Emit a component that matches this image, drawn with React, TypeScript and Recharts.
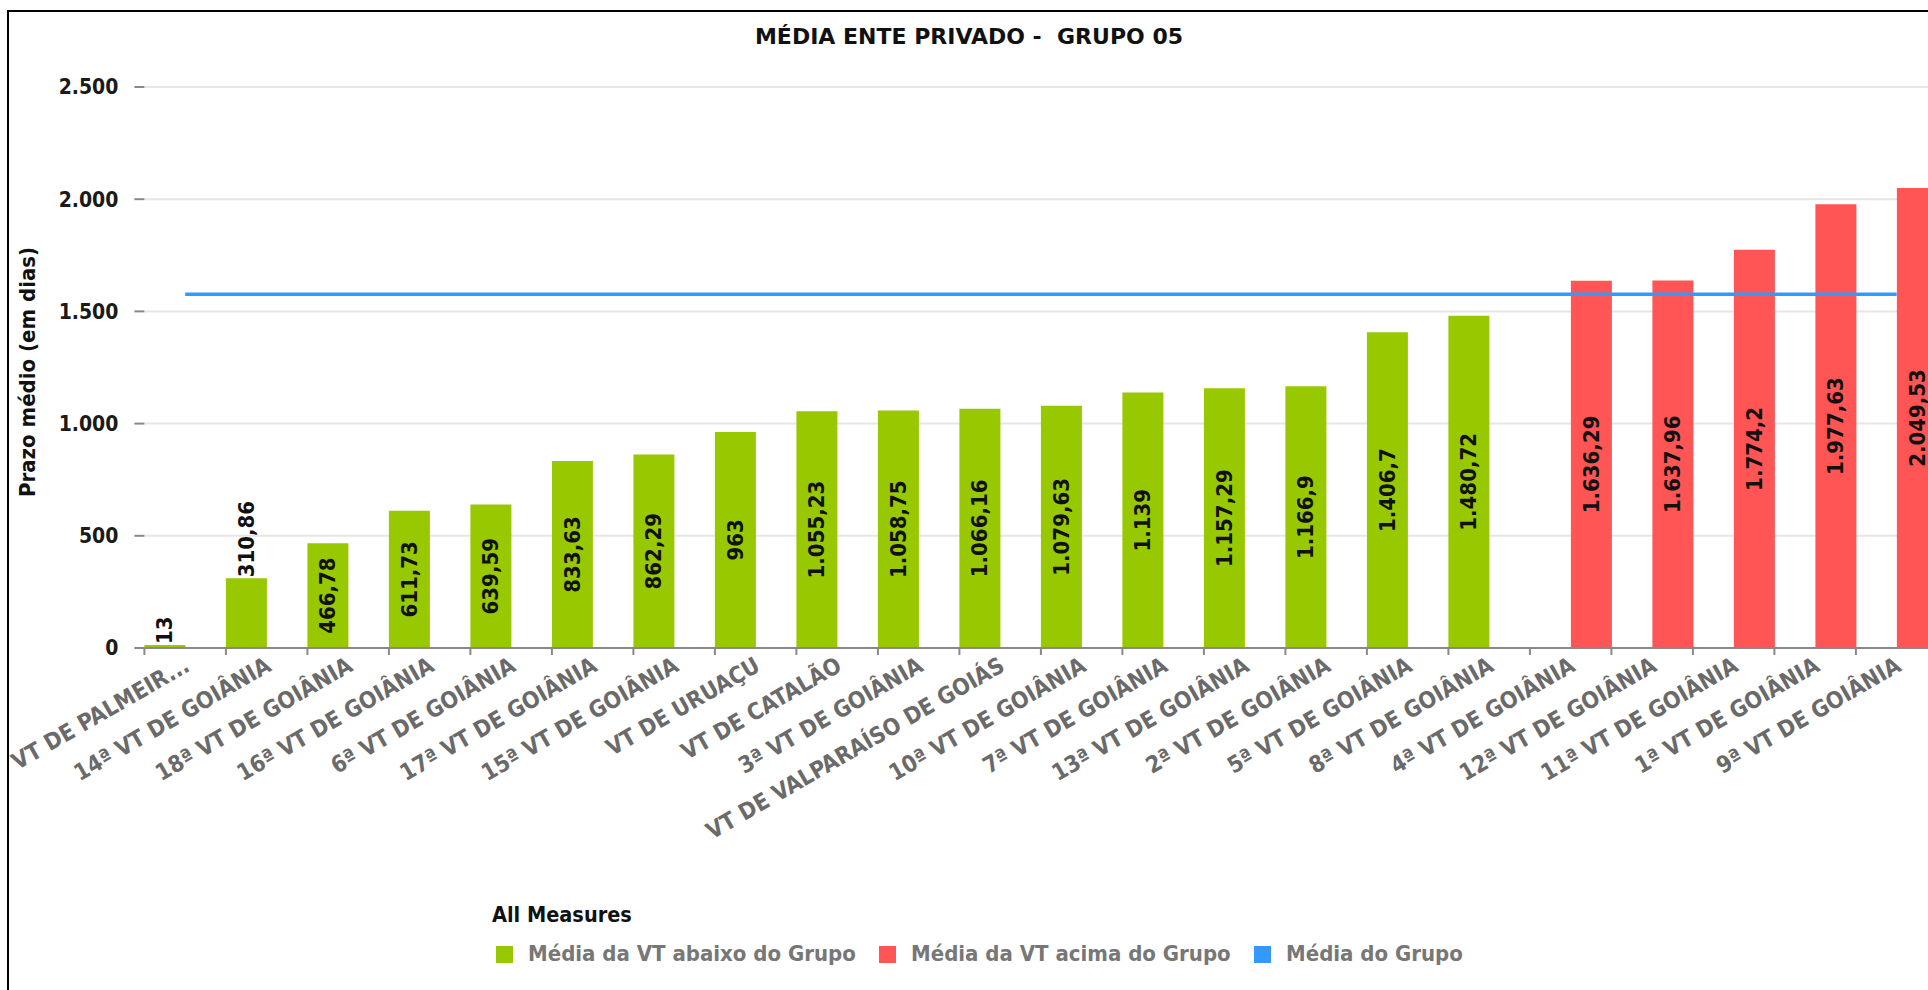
import React from "react";
import {
  Bar,
  CartesianGrid,
  ComposedChart,
  LabelList,
  Line,
  XAxis,
  YAxis,
} from "recharts";

const categories = [
  "VT DE PALMEIR...",
  "14ª VT DE GOIÂNIA",
  "18ª VT DE GOIÂNIA",
  "16ª VT DE GOIÂNIA",
  "6ª VT DE GOIÂNIA",
  "17ª VT DE GOIÂNIA",
  "15ª VT DE GOIÂNIA",
  "VT DE URUAÇU",
  "VT DE CATALÃO",
  "3ª VT DE GOIÂNIA",
  "VT DE VALPARAÍSO DE GOIÁS",
  "10ª VT DE GOIÂNIA",
  "7ª VT DE GOIÂNIA",
  "13ª VT DE GOIÂNIA",
  "2ª VT DE GOIÂNIA",
  "5ª VT DE GOIÂNIA",
  "8ª VT DE GOIÂNIA",
  "4ª VT DE GOIÂNIA",
  "12ª VT DE GOIÂNIA",
  "11ª VT DE GOIÂNIA",
  "1ª VT DE GOIÂNIA",
  "9ª VT DE GOIÂNIA",
];

const prazoMedio = [
  13, 310.86, 466.78, 611.73, 639.59, 833.63, 862.29, 963, 1055.23, 1058.75,
  1066.16, 1079.63, 1139, 1157.29, 1166.9, 1406.7, 1480.72, 1636.29, 1637.96,
  1774.2, 1977.63, 2049.53,
];

const mediaGrupo = 1576;

const yTicks = [0, 500, 1000, 1500, 2000, 2500];

const GREEN = "#97c800";
const RED = "#ff5555";
const BLUE = "#3399ff";
const FONT = "'DejaVu Sans Condensed', 'DejaVu Sans', sans-serif";

const CHART_W = 1960;
const CHART_H = 990;
const SLOT = 81.5;

function fmt(v: number): string {
  const [i, d] = v.toFixed(2).split(".");
  const intPart = i.replace(/\B(?=(\d{3})+(?!\d))/g, ".");
  const dec = d.replace(/0+$/, "");
  return dec ? `${intPart},${dec}` : intPart;
}

const chartData = categories.map((name, idx) => {
  const v = prazoMedio[idx];
  return {
    name,
    abaixo: v <= mediaGrupo ? v : null,
    acima: v > mediaGrupo ? v : null,
    media: mediaGrupo,
  };
});

function XTick({ x = 0, y = 0, payload }: any) {
  const half = payload?.offset || SLOT / 2;
  return (
    <g>
      <line x1={x - half} x2={x - half} y1={y} y2={y + 7} stroke="#888" strokeWidth={2} />
      <text
        transform={`translate(${x + 6}, ${y + 22}) rotate(-30)`}
        textAnchor="end"
        fill="#6a6a6a"
        fontSize={23}
        fontWeight="bold"
        fontFamily={FONT}
      >
        {payload?.value}
      </text>
    </g>
  );
}

function BarValue(props: any) {
  const { x, y, width, height, value } = props;
  if (value == null || height == null) return null;
  const cx = Number(x) + Number(width) / 2;
  const top = Number(y);
  const h = Number(height);
  const label = fmt(Number(value));
  const textLen = label.length * 12.5;
  const outside = textLen + 6 > h;
  return (
    <text
      transform={
        outside
          ? `translate(${cx}, ${top - 1}) rotate(-90)`
          : `translate(${cx}, ${top + h / 2}) rotate(-90)`
      }
      textAnchor={outside ? "start" : "middle"}
      dominantBaseline="central"
      fill="#111"
      fontSize={22}
      fontWeight="bold"
      fontFamily={FONT}
    >
      {label}
    </text>
  );
}

const legendItems = [
  { label: "Média da VT abaixo do Grupo", color: GREEN, x: 496 },
  { label: "Média da VT acima do Grupo", color: RED, x: 879 },
  { label: "Média do Grupo", color: BLUE, x: 1254 },
];

export default function App() {
  return (
    <div
      style={{
        position: "relative",
        width: 1928,
        height: 990,
        overflow: "hidden",
        background: "#fff",
      }}
    >
      <style>{"html,body{margin:0;padding:0;overflow:hidden;background:#fff}"}</style>
      <div
        style={{
          position: "absolute",
          left: 7,
          top: 10,
          width: 2000,
          height: 1040,
          border: "2px solid #000",
        }}
      />
      <div style={{ position: "absolute", left: 0, top: 0 }}>
        <ComposedChart
          width={CHART_W}
          height={CHART_H}
          data={chartData}
          margin={{ top: 87, right: 22.6, bottom: 192, left: 44.4 }}
          barCategoryGap={0}
          barGap={0}
        >
          <CartesianGrid stroke="#e6e6e6" strokeWidth={2} vertical={false} />
          <XAxis
            dataKey="name"
            interval={0}
            height={150}
            tickSize={0}
            tickMargin={0}
            tickLine={false}
            axisLine={{ stroke: "#888", strokeWidth: 2 }}
            tick={<XTick />}
          />
          <YAxis
            domain={[0, 2500]}
            ticks={yTicks}
            interval={0}
            width={100}
            axisLine={false}
            tickSize={10}
            tickMargin={16}
            tickLine={{ stroke: "#888", strokeWidth: 2 }}
            tickFormatter={fmt}
            tick={{ fill: "#1a1a1a", fontSize: 21, fontWeight: "bold", fontFamily: FONT }}
          />
          <Bar dataKey="abaixo" fill={GREEN} isAnimationActive={false}>
            <LabelList dataKey="abaixo" content={<BarValue />} />
          </Bar>
          <Bar dataKey="acima" fill={RED} isAnimationActive={false}>
            <LabelList dataKey="acima" content={<BarValue />} />
          </Bar>
          <Line
            dataKey="media"
            stroke={BLUE}
            strokeWidth={3.5}
            dot={false}
            activeDot={false}
            isAnimationActive={false}
          />
        </ComposedChart>
      </div>
      <svg
        width={1928}
        height={990}
        style={{ position: "absolute", left: 0, top: 0, pointerEvents: "none" }}
      >
        <text
          x={969}
          y={44}
          textAnchor="middle"
          fontFamily="'DejaVu Sans', sans-serif"
          fontWeight="bold"
          fontSize={22}
          fill="#111"
          style={{ whiteSpace: "pre" }}
        >
          {"MÉDIA ENTE PRIVADO -  GRUPO 05"}
        </text>
        <text
          transform="translate(35, 372) rotate(-90)"
          textAnchor="middle"
          fontFamily={FONT}
          fontWeight="bold"
          fontSize={22}
          fill="#111"
        >
          Prazo médio (em dias)
        </text>
        <text x={492} y={922} fontFamily={FONT} fontWeight="bold" fontSize={21.5} fill="#111">
          All Measures
        </text>
        {legendItems.map((item) => (
          <g key={item.label}>
            <rect x={item.x} y={946} width={17} height={17} fill={item.color} />
            <text
              x={item.x + 32}
              y={961}
              fontFamily={FONT}
              fontWeight="bold"
              fontSize={22}
              fill="#777"
            >
              {item.label}
            </text>
          </g>
        ))}
      </svg>
    </div>
  );
}
